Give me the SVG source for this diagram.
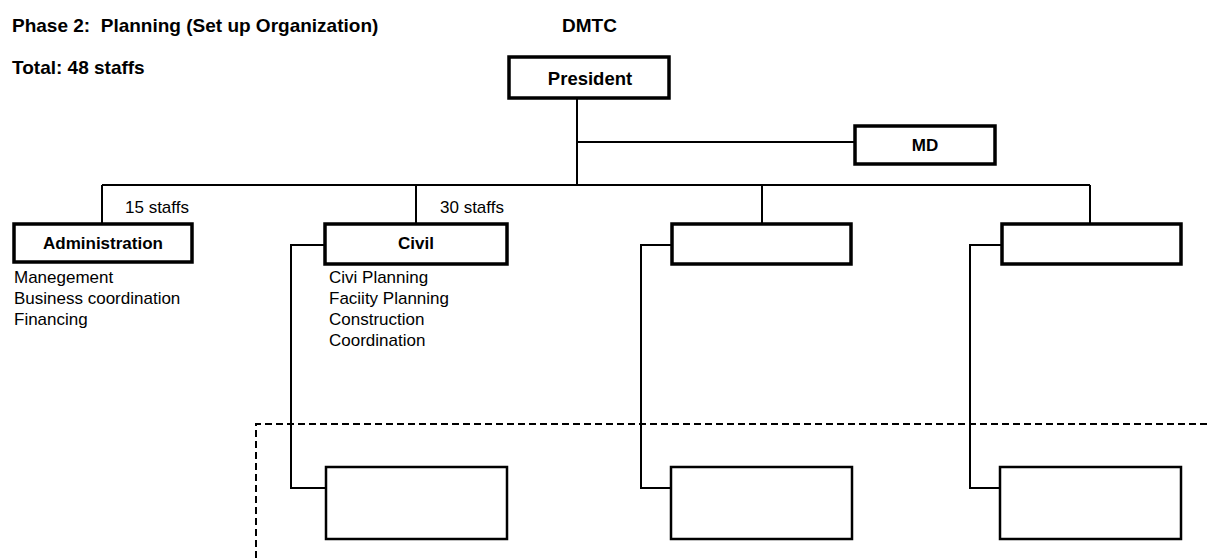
<svg xmlns="http://www.w3.org/2000/svg" width="1209" height="558" viewBox="0 0 1209 558">
  <style>
    .bg { fill: #ffffff; }
    .box { fill: #ffffff; stroke: #000000; stroke-width: 3.5; }
    .sub { fill: #ffffff; stroke: #000000; stroke-width: 2.5; }
    .wire { fill: none; stroke: #000000; stroke-width: 2; }
    .dash { fill: none; stroke: #000000; stroke-width: 2; stroke-dasharray: 7 4; }
    .head { font-family: "Liberation Sans", Arial, sans-serif; font-weight: bold; font-size: 19px; fill: #000000; }
    .label { font-family: "Liberation Sans", Arial, sans-serif; font-weight: bold; font-size: 17px; fill: #000000; text-anchor: middle; }
    .big { font-size: 18.5px; }
    .note { font-family: "Liberation Sans", Arial, sans-serif; font-size: 17px; fill: #000000; }
  </style>
  <rect class="bg" x="0" y="0" width="1209" height="558"/>

  <!-- headings -->
  <text class="head" x="12" y="32" xml:space="preserve">Phase 2:  Planning (Set up Organization)</text>
  <text class="head" x="12" y="74">Total: 48 staffs</text>
  <text class="head" x="562" y="32">DMTC</text>

  <!-- connectors -->
  <g id="connectors">
    <path class="wire" d="M577 98 V185"/>
    <path class="wire" d="M577 142 H855"/>
    <path class="wire" d="M102 185 H1090"/>
    <path class="wire" d="M102 185 V224"/>
    <path class="wire" d="M416 185 V224"/>
    <path class="wire" d="M762 185 V224"/>
    <path class="wire" d="M1090 185 V224"/>
    <path class="wire" d="M325 245 H291 V488 H326"/>
    <path class="wire" d="M672 245 H641 V488 H671"/>
    <path class="wire" d="M1002 245 H970 V488 H1000"/>
    <path class="dash" d="M256 558 V424 H1209"/>
  </g>

  <text class="note" x="125" y="213">15 staffs</text>
  <text class="note" x="440" y="213">30 staffs</text>

  <g id="president">
    <rect class="box" x="509" y="57" width="160" height="41"/>
    <text class="label big" x="590" y="85">President</text>
  </g>
  <g id="md">
    <rect class="box" x="855" y="126" width="140" height="38"/>
    <text class="label" x="925" y="151">MD</text>
  </g>
  <g id="administration">
    <rect class="box" x="14" y="224" width="178" height="38"/>
    <text class="label" x="103" y="249">Administration</text>
    <text class="note" x="14" y="283">Manegement</text>
    <text class="note" x="14" y="304">Business coordination</text>
    <text class="note" x="14" y="325">Financing</text>
  </g>
  <g id="civil">
    <rect class="box" x="325" y="224" width="182" height="40"/>
    <text class="label" x="416" y="249">Civil</text>
    <text class="note" x="329" y="283">Civi Planning</text>
    <text class="note" x="329" y="304">Faciity Planning</text>
    <text class="note" x="329" y="325">Construction</text>
    <text class="note" x="329" y="346">Coordination</text>
  </g>
  <g id="dept3">
    <rect class="box" x="672" y="224" width="179" height="40"/>
  </g>
  <g id="dept4">
    <rect class="box" x="1002" y="224" width="179" height="40"/>
  </g>
  <g id="unit1">
    <rect class="sub" x="326" y="467" width="181" height="72"/>
  </g>
  <g id="unit2">
    <rect class="sub" x="671" y="467" width="181" height="72"/>
  </g>
  <g id="unit3">
    <rect class="sub" x="1000" y="467" width="181" height="72"/>
  </g>
</svg>
